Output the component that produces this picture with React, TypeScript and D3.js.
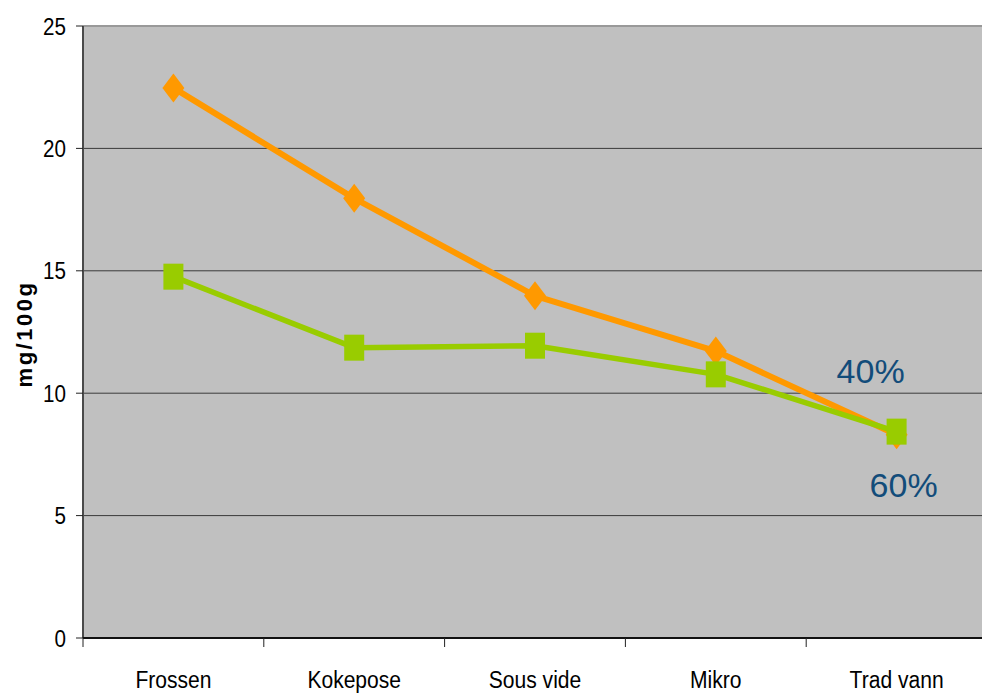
import React from 'react';
import * as d3 from 'd3';

const categories = ['Frossen', 'Kokepose', 'Sous vide', 'Mikro', 'Trad vann'];
const series40 = [22.47, 17.96, 13.98, 11.72, 8.3];
const series60 = [14.76, 11.86, 11.94, 10.77, 8.43];
const seriesLabels = ['40%', '60%'];
const yTicks = [0, 5, 10, 15, 20, 25];

const W = 982;
const H = 694;
const margin = { top: 26, right: -5, bottom: 56, left: 83 };

const FONT = '"Liberation Sans", Arial, sans-serif';
// the original labels use a slightly condensed face
const SQUEEZE = 0.86;

export default function App() {
  const innerBottom = H - margin.bottom;
  const x = d3.scaleBand<string>()
    .domain(categories)
    .range([margin.left, W - margin.right]);
  const y = d3.scaleLinear().domain([0, 25]).range([innerBottom, margin.top]);
  const cx = (c: string) => (x(c) || 0) + x.bandwidth() / 2;

  const line = d3.line<number>()
    .x((_, i) => cx(categories[i]))
    .y(d => y(d));

  const lastX = cx(categories[categories.length - 1]);

  return (
    <svg width={W} height={H} style={{ position: 'absolute', left: 0, top: 0, background: '#fff' }}>
      {/* plot area */}
      <rect x={margin.left} y={margin.top} width={W - margin.right - margin.left}
        height={innerBottom - margin.top} fill="#c0c0c0" />
      <line x1={margin.left} x2={W} y1={margin.top} y2={margin.top} stroke="#999" strokeWidth={2} />

      {/* grid lines */}
      {yTicks.filter(t => t > 0 && t < 25).map(t => (
        <line key={t} x1={margin.left} x2={W} y1={y(t)} y2={y(t)} stroke="#3a3a3a" strokeWidth={1} />
      ))}

      {/* y axis */}
      <line x1={margin.left} x2={margin.left} y1={margin.top} y2={innerBottom} stroke="#4a4a4a" strokeWidth={2} />
      {yTicks.map(t => (
        <g key={t}>
          <line x1={margin.left - 7} x2={margin.left} y1={y(t)} y2={y(t)} stroke="#222" strokeWidth={1} />
          <text transform={`translate(${margin.left - 17},${y(t)}) scale(${SQUEEZE},1)`} dy="0.36em"
            textAnchor="end" fontFamily={FONT} fontSize={24} fill="#000">{t}</text>
        </g>
      ))}
      <text transform={`translate(32,${(margin.top + innerBottom) / 2 + 2}) rotate(-90)`}
        textAnchor="middle" fontFamily={FONT} fontWeight="bold"
        fontSize={22} letterSpacing="2.5px" fill="#000">mg/100g</text>

      {/* x axis */}
      <line x1={margin.left} x2={W} y1={innerBottom} y2={innerBottom} stroke="#111" strokeWidth={2} />
      {categories.map(c => (
        <g key={c}>
          <line x1={x(c) || 0} x2={x(c) || 0} y1={innerBottom} y2={innerBottom + 9} stroke="#222" strokeWidth={1} />
          <text transform={`translate(${cx(c)},688) scale(${SQUEEZE},1)`} textAnchor="middle"
            fontFamily={FONT} fontSize={24.5} fill="#000">{c}</text>
        </g>
      ))}

      {/* 40% series */}
      <path d={line(series40) || ''} fill="none" stroke="#ff9900" strokeWidth={6} strokeLinejoin="round" />
      {series40.map((v, i) => {
        const px = cx(categories[i]);
        const py = y(v);
        return (
          <polygon key={i} fill="#ff9900"
            points={`${px},${py - 14.5} ${px + 11},${py} ${px},${py + 14.5} ${px - 11},${py}`} />
        );
      })}

      {/* 60% series */}
      <path d={line(series60) || ''} fill="none" stroke="#99cc00" strokeWidth={5.5} strokeLinejoin="round" />
      {series60.map((v, i) => (
        <rect key={i} x={cx(categories[i]) - 10} y={y(v) - 13} width={20} height={26} fill="#99cc00" />
      ))}

      {/* series labels */}
      <text x={lastX - 26} y={383} textAnchor="middle" fontFamily={FONT}
        fontSize={34} fill="#124c7a">{seriesLabels[0]}</text>
      <text x={lastX + 7} y={497} textAnchor="middle" fontFamily={FONT}
        fontSize={34} fill="#124c7a">{seriesLabels[1]}</text>
    </svg>
  );
}
